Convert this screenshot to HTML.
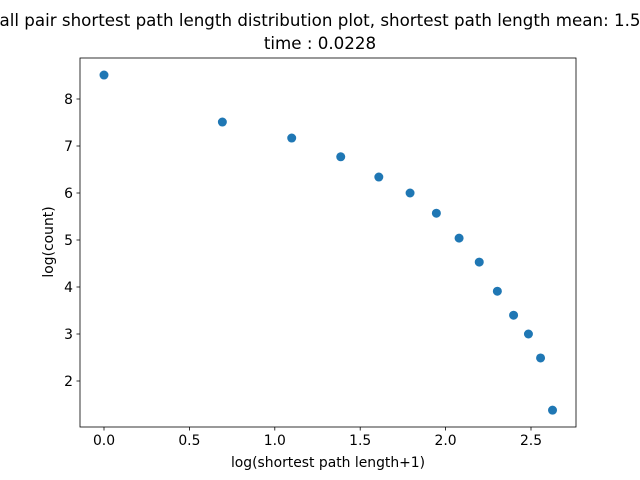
<!DOCTYPE html>
<html><head><meta charset="utf-8"><style>
body{margin:0;background:#fff;}
svg{display:block;font-family:"DejaVu Sans","Liberation Sans",sans-serif;}
</style></head><body>
<svg id="chart" width="640" height="480">
<rect x="0" y="0" width="640" height="480" fill="#fff"/>
<text x="320" y="26" text-anchor="middle" font-size="16.7" fill="#000">all pair shortest path length distribution plot, shortest path length mean: 1.5</text>
<text x="320" y="49" text-anchor="middle" font-size="16.7" fill="#000">time : 0.0228</text>
<g id="plot"></g>
<text x="328" y="467" text-anchor="middle" font-size="13.9">log(shortest path length+1)</text>
<text transform="translate(53,242) rotate(-90)" text-anchor="middle" font-size="13.9">log(count)</text>
</svg>
<script>
const xValues=[0,0.693,1.099,1.386,1.609,1.792,1.946,2.079,2.197,2.303,2.398,2.485,2.556,2.626];
const yValues=[8.51,7.51,7.17,6.77,6.34,6.0,5.57,5.04,4.53,3.91,3.40,3.0,2.49,1.38];
const xTicks=[0,0.5,1.0,1.5,2.0,2.5];
const xTickLabels=["0.0","0.5","1.0","1.5","2.0","2.5"];
const yTicks=[2,3,4,5,6,7,8];
const yTickLabels=["2","3","4","5","6","7","8"];
const NS="http://www.w3.org/2000/svg";
const L=80,R=576,T=58,B=427;
function xs(v){return 104+v*170.8;}
function ys(v){return 99+(8-v)*47;}
const g=document.getElementById('plot');
function mk(tag,attrs){const e=document.createElementNS(NS,tag);for(const k in attrs)e.setAttribute(k,attrs[k]);g.appendChild(e);return e;}
xTicks.forEach((t,i)=>{
  const x=xs(t);
  const tk=mk('line',{x1:x,x2:x,y1:B,y2:B+3.5,stroke:'#000','stroke-width':0.8});
  
  
  const lb=mk('text',{x:x,y:B+18,'text-anchor':'middle','font-size':13.9});
  lb.textContent=xTickLabels[i];
  
  
});
yTicks.forEach((t,i)=>{
  const y=ys(t);
  const tk=mk('line',{x1:L-3.5,x2:L,y1:y,y2:y,stroke:'#000','stroke-width':0.8});
  
  
  const lb=mk('text',{x:L-7,y:y+5,'text-anchor':'end','font-size':13.9});
  lb.textContent=yTickLabels[i];
  
  
});
xValues.forEach((v,i)=>{
  const c=mk('circle',{cx:xs(v),cy:ys(yValues[i]),r:4.5,fill:'#1f77b4'});
  
  
});
const fr=mk('rect',{x:L,y:T,width:R-L,height:B-T,fill:'none',stroke:'#000','stroke-width':0.8});


</script>
</body></html>
